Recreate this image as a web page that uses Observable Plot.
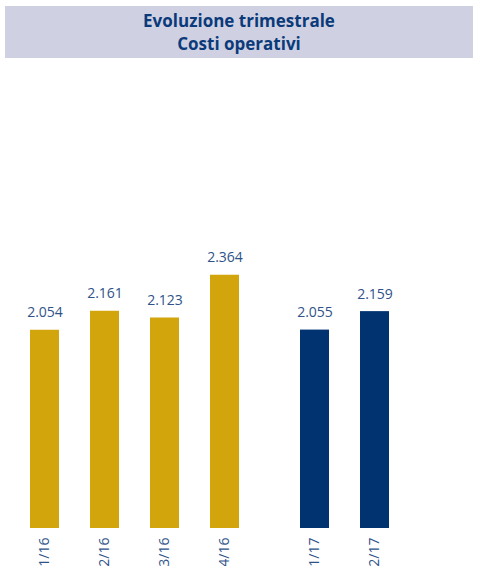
<!DOCTYPE html>
<html>
<head>
<meta charset="utf-8">
<script src="https://cdn.jsdelivr.net/npm/d3@7"></script>
<script src="https://cdn.jsdelivr.net/npm/@observablehq/plot@0.6"></script>
<style>
  html, body { margin: 0; padding: 0; background: #fff; overflow: hidden; }
  #title {
    margin: 6px 5px 0 5px; height: 52px; box-sizing: border-box;
    background: #cfd1e2; color: #0b3a7a;
    font-family: "Open Sans", sans-serif; font-weight: 700; font-size: 17px;
    line-height: 23px; text-align: center; padding-top: 3px;
  }
  #charts { display: flex; flex-direction: row; }
  #charts svg { display: block; }
</style>
</head>
<body>
<div id="title">Evoluzione trimestrale<br>Costi operativi</div>
<div id="charts"></div>
<script>
// Data
const quarters2016 = ["1/16", "2/16", "3/16", "4/16"];
const values2016 = [2054, 2161, 2123, 2364];
const quarters2017 = ["1/17", "2/17"];
const values2017 = [2055, 2159];
const colors = { "2016": "#d2a50c", "2017": "#003370" };

const itLocale = d3.formatLocale({ decimal: ",", thousands: ".", grouping: [3], currency: ["€", ""] });
const fmt = itLocale.format(",");

const H = 508;
const yScale = { domain: [937, 2500], range: [470, 192.6], axis: null };
const labelColor = "#2f5389";
const font = "Open Sans, sans-serif";

function makePlot(labels, values, color, width, marginLeft) {
  const data = labels.map((q, i) => ({ q, v: values[i] }));
  return Plot.plot({
    width, height: H,
    marginLeft, marginRight: 0, marginTop: 0, marginBottom: 38,
    style: { fontFamily: font, fontSize: "14px", color: labelColor, background: "transparent", overflow: "visible" },
    x: { domain: labels, paddingInner: 0.52, paddingOuter: 0.26, range: [marginLeft, marginLeft + labels.length * 60] },
    y: yScale,
    marks: [
      Plot.barY(data, { x: "q", y1: 937, y2: "v", fill: color }),
      Plot.text(data, { x: "q", y: "v", text: d => fmt(d.v), lineAnchor: "bottom", dy: -13, fill: labelColor, fontSize: 14 }),
      Plot.axisX({ tickSize: 0, tickPadding: 9, tickRotate: -90, fontSize: 14, fill: labelColor, label: null })
    ]
  });
}

const charts = document.getElementById("charts");
charts.appendChild(makePlot(quarters2016, values2016, colors["2016"], 254, 14));
charts.appendChild(makePlot(quarters2017, values2017, colors["2017"], 224, 30.5));
</script>
</body>
</html>
